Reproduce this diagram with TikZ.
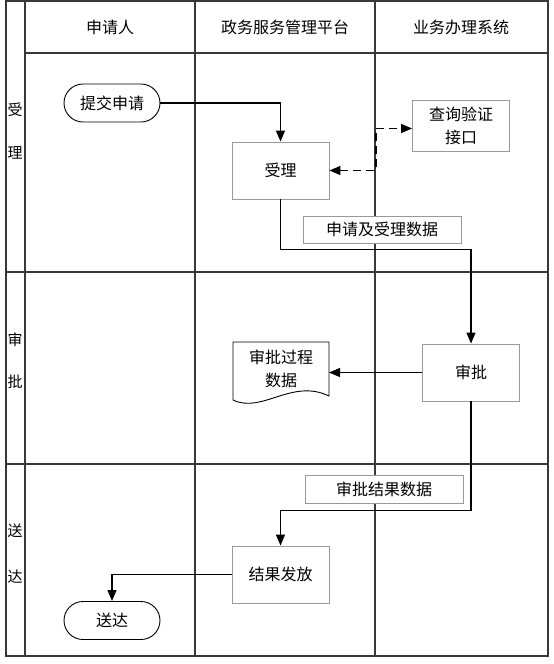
\documentclass[tikz,border=0pt]{standalone}
\usepackage{fontspec}
\setmainfont{Noto Sans CJK SC}
\usetikzlibrary{arrows.meta}
\begin{document}
\begin{tikzpicture}[x=1pt,y=-1pt,
  frame/.style={draw=black!78,line width=1.5pt},
  box/.style={draw=black!40,line width=0.9pt,fill=white,minimum width=97pt,minimum height=57pt,inner sep=0pt,align=center,font=\fontsize{16}{23}\selectfont},
  stadium/.style={draw=black,line width=0.9pt,fill=white,rounded corners=19pt,minimum width=96pt,minimum height=38pt,inner sep=0pt,font=\fontsize{16}{19}\selectfont},
  labelbox/.style={draw=black!40,line width=0.9pt,fill=white,minimum width=158pt,minimum height=27pt,inner sep=0pt,font=\fontsize{16}{19}\selectfont},
  head/.style={font=\fontsize{16}{19}\selectfont,inner sep=0pt},
  lane/.style={font=\fontsize{15}{18}\selectfont,inner sep=0pt},
  conn/.style={draw=black,line width=1.2pt,-{Triangle[length=11pt,width=9pt]}},
  dconn/.style={draw=black,line width=1.4pt,dash pattern=on 8pt off 5pt,{Triangle[length=11pt,width=9pt]}-{Triangle[length=11pt,width=9pt]}}
]
\useasboundingbox (0,0) rectangle (554,664);
% frame
\draw[frame] (6,1) rectangle (548,656);
\draw[frame] (25,1) -- (25,656);
\draw[frame] (25,53) -- (548,53);
\draw[frame] (195,1) -- (195,656);
\draw[frame] (375,1) -- (375,656);
\draw[frame] (6,272) -- (548,272);
\draw[frame] (6,464) -- (548,464);
% headers
\node[head] (h1) at (110,27) {申请人};
\node[head] (h2) at (285,27) {政务服务管理平台};
\node[head] (h3) at (461,27) {业务办理系统};
% lane labels
\node[lane] (l1a) at (15,110) {受};
\node[lane] (l1b) at (15,153) {理};
\node[lane] (l2a) at (15,340) {审};
\node[lane] (l2b) at (15,382) {批};
\node[lane] (l3a) at (15,531) {送};
\node[lane] (l3b) at (15,577) {达};
% nodes
\node[stadium] (tijiao) at (112,103) {提交申请};
\node[box] (shouli) at (280.5,170.5) {受理};
\node[box,minimum height=51pt] (chaxun) at (461,125.5) {查询验证\\接口};
\node[labelbox] (d1) at (382,229.5) {申请及受理数据};
\node[box] (shenpi) at (471,372.5) {审批};
\path[draw=black,line width=0.9pt,fill=white] (233,342) -- (329,342) -- (329,396)
  .. controls (292,378) and (262,414) .. (233,400) -- cycle;
\node[inner sep=0pt,align=center,font=\fontsize{16}{23}\selectfont] (doc) at (281,369) {审批过程\\数据};
\coordinate (docE) at (329,372.5);
\node[labelbox,minimum height=28pt] (d2) at (384,489) {审批结果数据};
\node[box] (jieguo) at (280.5,574.5) {结果发放};
\node[stadium] (songda) at (112,620.5) {送达};
% connectors
\draw[conn] (tijiao.east) -| (shouli.north);
\draw[dconn] (shouli.east) -- (376,170.5) |- ([yshift=-3pt]chaxun.west);
\draw[conn] (shouli.south) -- ++(0,50) -| (shenpi.north);
\draw[conn] (shenpi.west) -- (docE);
\draw[conn] (shenpi.south) -- ++(0,109) -| (jieguo.north);
\draw[conn] (jieguo.west) -| (songda.north);
\end{tikzpicture}
\end{document}
